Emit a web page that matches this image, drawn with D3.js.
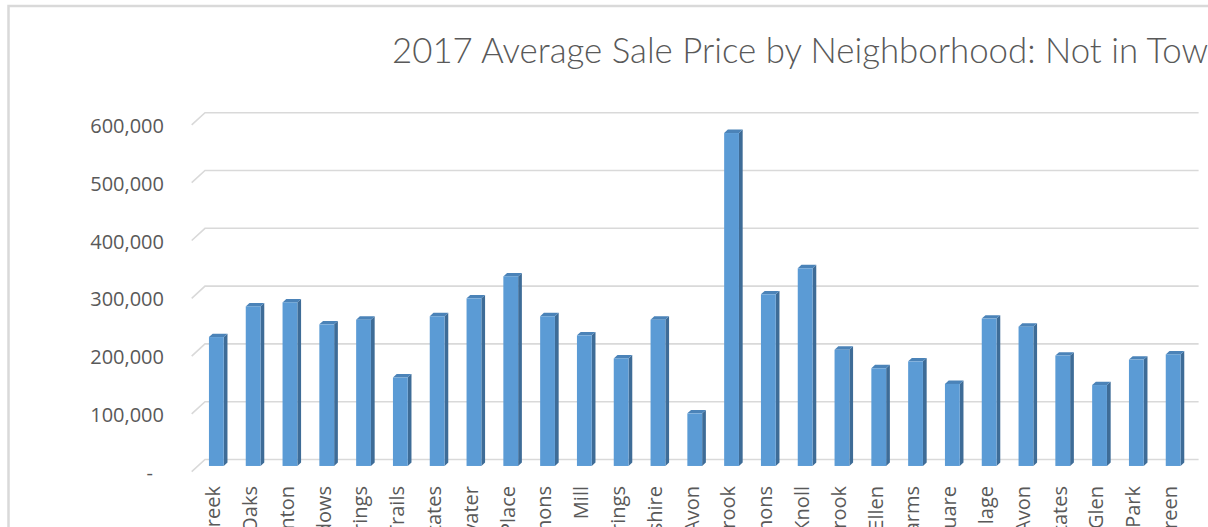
<!DOCTYPE html>
<html>
<head>
<meta charset="utf-8">
<script src="https://cdn.jsdelivr.net/npm/d3@7"></script>
<style>
  html, body { margin: 0; padding: 0; background: #fff; overflow: hidden; }
  svg { display: block; }
</style>
</head>
<body>
<div id="chart-container"></div>
<script>
// chart data
const titleText = "2017 Average Sale Price by Neighborhood: Not in Town";
const categories = ["reek", "Oaks", "nton", "dows", "rings", "Trails", "tates", "vater", "Place", "mons",
  "Mill", "rings", "shire", "Avon", "rook", "mons", "Knoll", "rook", "Ellen", "arms",
  "uare", "lage", "Avon", "tates", "Glen", "Park", "reen"];
const prices = [223000, 276000, 283000, 245000, 253000, 153000, 259000, 290000, 328000, 259000,
  226000, 186000, 253000, 91000, 576000, 297000, 342000, 201000, 169000, 181000,
  142000, 255000, 241000, 191000, 140000, 184000, 193000];
const yTicks = [0, 100000, 200000, 300000, 400000, 500000, 600000];

function drawChart() {
  var width = 1208;
  var height = 527;
  var textColor = "#595959";
  var gridColor = "#d9d9d9";

  // oblique 3d: front edge of the floor -> back wall
  var floorX = 191.7, floorY = 471.7;
  var depth = { x: 13.3, y: -12.2 };
  var band = 36.8;

  var svg = d3.select("#chart-container")
    .append("svg")
    .attr("width", width)
    .attr("height", height);

  // chart frame (runs past the crop)
  svg.append("rect")
    .attr("x", 8.5).attr("y", 6)
    .attr("width", width + 50).attr("height", height + 50)
    .attr("fill", "none")
    .attr("stroke", gridColor)
    .attr("stroke-width", 2.5);

  var x = d3.scaleBand()
    .domain(d3.range(categories.length))
    .range([floorX, floorX + band * categories.length]);

  // value scale on the front plane of the floor
  var y = d3.scaleLinear()
    .domain([0, 600000])
    .range([floorY, floorY - 346.8]);

  // gridlines: short diagonal on the side then across the back wall
  var plotRight = floorX + depth.x + band * categories.length;
  svg.append("g")
    .selectAll("polyline")
    .data(yTicks)
    .enter()
    .append("polyline")
    .attr("fill", "none")
    .attr("stroke", gridColor)
    .attr("stroke-width", 1.6)
    .attr("points", function (d) {
      var yf = y(d);
      return [[floorX, yf], [floorX + depth.x, yf + depth.y], [plotRight, yf + depth.y]].join(" ");
    });

  // y tick labels
  svg.append("g")
    .selectAll("text")
    .data(yTicks)
    .enter()
    .append("text")
    .attr("x", d => d === 0 ? 153 : 164)
    .attr("y", d => y(d) + 1)
    .attr("dy", "0.35em")
    .attr("text-anchor", "end")
    .style("font-family", "'Open Sans', sans-serif")
    .style("font-size", "20px")
    .style("fill", textColor)
    .text(d => d === 0 ? "-" : d3.format(",")(d));

  // bars
  var barW = 14.8;
  var front = 0.47, back = 0.75;
  var dx = (back - front) * depth.x, dy = (back - front) * depth.y;
  var bars = svg.append("g")
    .selectAll("g")
    .data(prices)
    .enter()
    .append("g");

  function frontX(i) { return x(i) + (x.bandwidth() - barW) / 2 + front * depth.x; }
  function yb(v) { return y(v) + front * depth.y; }

  // side face
  bars.append("path")
    .attr("fill", "#3e6c97")
    .attr("d", function (d, i) {
      var x1 = frontX(i) + barW;
      var y0 = yb(0), y1 = yb(d);
      return "M" + x1 + "," + y0 + "L" + (x1 + dx) + "," + (y0 + dy) +
        "L" + (x1 + dx) + "," + (y1 + dy) + "L" + x1 + "," + y1 + "Z";
    });

  // top face
  bars.append("path")
    .attr("fill", "#4b83b8")
    .attr("d", function (d, i) {
      var x0 = frontX(i), y1 = yb(d);
      return "M" + x0 + "," + y1 + "L" + (x0 + barW) + "," + y1 +
        "L" + (x0 + barW + dx) + "," + (y1 + dy) + "L" + (x0 + dx) + "," + (y1 + dy) + "Z";
    });

  // front face
  bars.append("rect")
    .attr("x", (d, i) => frontX(i))
    .attr("y", d => yb(d))
    .attr("width", barW)
    .attr("height", d => yb(0) - yb(d))
    .attr("fill", "#5b9bd5");

  // category labels, rotated, cut off by the bottom of the picture
  svg.append("g")
    .selectAll("text")
    .data(categories)
    .enter()
    .append("text")
    .attr("transform", (d, i) => "translate(" + (x(i) + x.bandwidth() / 2 + 3) + ",486) rotate(-90)")
    .attr("dy", "0.35em")
    .attr("text-anchor", "end")
    .style("font-family", "'Open Sans', sans-serif")
    .style("font-size", "20px")
    .style("fill", textColor)
    .text(d => d);

  // title, sized so it spans like the reference
  var titleFont = "Lato, 'Open Sans', sans-serif";
  var title = svg.append("text")
    .attr("x", 392)
    .attr("y", 63)
    .style("font-family", titleFont)
    .style("font-weight", 300)
    .style("font-size", "30px")
    .style("fill", textColor)
    .text(titleText);
  var probe = svg.append("text")
    .style("font-family", titleFont)
    .style("font-weight", 300)
    .style("font-size", "30px")
    .text("2017 Average Sale Price by Neighborhood: Not in To");
  var w = probe.node().getComputedTextLength();
  probe.remove();
  title.style("font-size", (30 * 790 / w) + "px");
}

drawChart();
</script>
</body>
</html>
